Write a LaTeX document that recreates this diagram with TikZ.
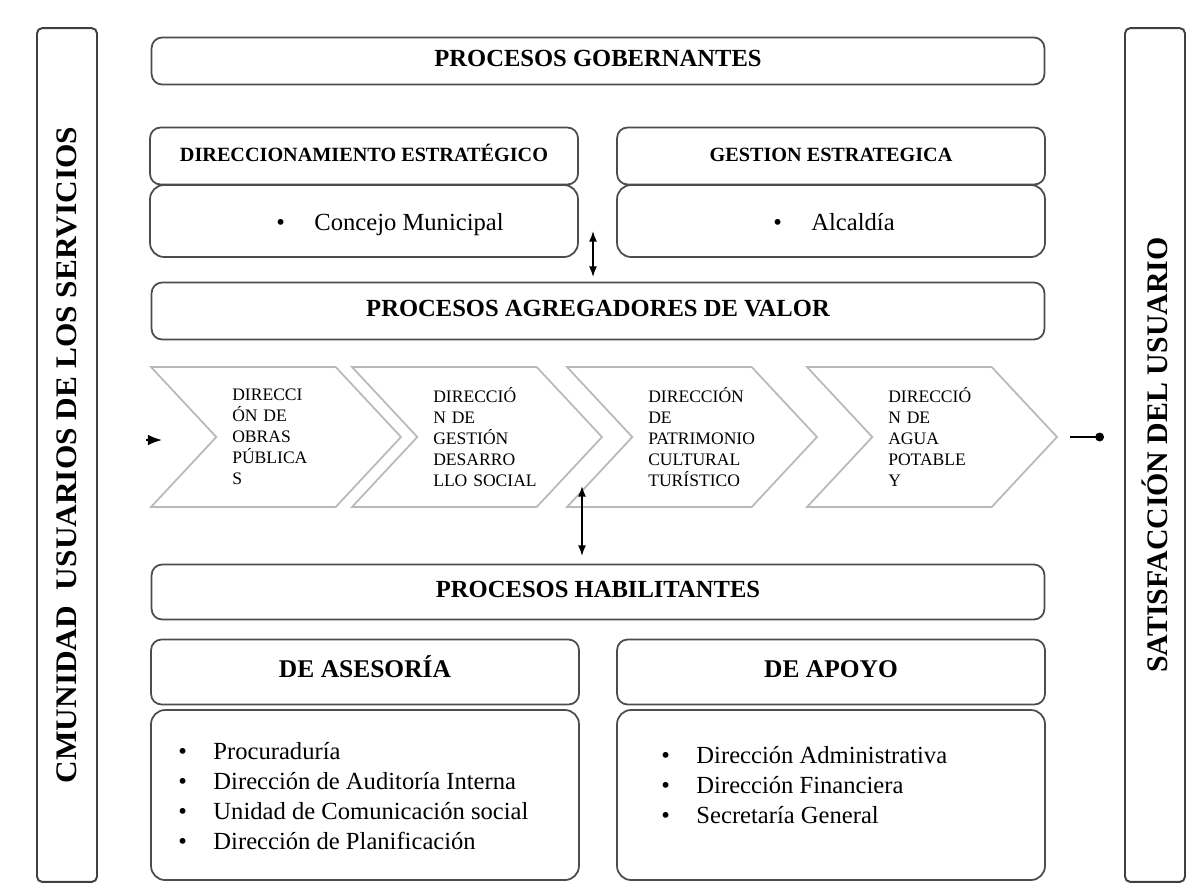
\documentclass[tikz,border=0pt]{standalone}
\usepackage{fontspec}
\setmainfont{Liberation Serif}
\usepackage{tikz}
\usetikzlibrary{shapes,arrows.meta,positioning}

\begin{document}
\begin{tikzpicture}[
    x=0.02cm, y=-0.02cm,
    bar/.style={draw=black!75, line width=1.1pt, rounded corners=3pt, rotate=90, inner xsep=0pt,
        minimum width=17.08cm, minimum height=1.2cm, font=\fontsize{17}{19}\selectfont\bfseries},
    band/.style={draw=black!70, line width=1pt, rounded corners=6pt, text height=1.6ex, text depth=0.3ex,
        minimum width=17.86cm, font=\fontsize{14}{16}\selectfont\bfseries},
    head/.style={draw=black!70, line width=1pt, rounded corners=6pt, text height=1.6ex, text depth=0.3ex,
        minimum width=8.56cm},
    body/.style={draw=black!70, line width=1pt, rounded corners=8pt, minimum width=8.56cm},
    list/.style={align=left, inner sep=0pt, font=\fontsize{14}{17}\selectfont},
    stage/.style={signal, signal to=east, signal from=west, signal pointer angle=94,
        draw=gray!55, line width=1pt, minimum width=5cm, minimum height=2.8cm,
        inner sep=0pt, text width=1.75cm, align=left, font=\fontsize{10}{12}\selectfont},
    edge/.style={line width=0.9pt}
]
    \useasboundingbox (0,0) rectangle (1202,890);

    % side bars
    \node[bar] (users) at (67,455) {\scalebox{1.05}[1]{CMUNIDAD\ \ USUARIOS DE LOS SERVICIOS}};
    \node[bar] (satis) at (1155,455) {SATISFACCIÓN DEL USUARIO};

    % governing processes
    \node[band, minimum height=0.94cm] (gob) at (598,61) {PROCESOS GOBERNANTES};
    \node[head, minimum height=1.14cm, font=\fontsize{11.5}{13}\selectfont\bfseries] (dirh) at (364,156) {DIRECCIONAMIENTO ESTRATÉGICO};
    \node[body, minimum height=1.44cm] (dirb) at (364,221) {};
    \node[head, minimum height=1.14cm, font=\fontsize{11.5}{13}\selectfont\bfseries] (gesh) at (831,156) {GESTION ESTRATEGICA};
    \node[body, minimum height=1.44cm] (gesb) at (831,221) {};
    \node[anchor=base, font=\fontsize{14}{16}\selectfont] (concejo) at (390,230) {\textbullet\hspace{1.2em}Concejo Municipal};
    \node[anchor=base, font=\fontsize{14}{16}\selectfont] (alcaldia) at (834,230) {\textbullet\hspace{1.2em}Alcaldía};

    % value chain
    \node[band, minimum height=1.14cm] (agr) at (598,311) {PROCESOS AGREGADORES DE VALOR};
    \node[stage] (obras) at (276,437) {DIRECCI\\ÓN DE\\OBRAS\\PÚBLICA\\S};
    \node[stage] (social) at (477,437) {DIRECCIÓ\\N DE\\GESTIÓN\\DESARRO\\\mbox{LLO SOCIAL}};
    \node[stage] (cultura) at (692,437) {DIRECCIÓN\\DE\\PATRIMONIO\\CULTURAL\\TURÍSTICO};
    \node[stage] (agua) at (932,437) {DIRECCIÓ\\N DE\\AGUA\\POTABLE\\Y};

    % enabling processes
    \node[band, minimum height=1.1cm] (hab) at (598,592) {PROCESOS HABILITANTES};
    \node[head, minimum height=1.3cm, font=\fontsize{14.5}{16}\selectfont\bfseries] (aseh) at (365,672) {DE ASESORÍA};
    \node[body, minimum height=3.4cm] (aseb) at (365,795) {};
    \node[head, minimum height=1.3cm, font=\fontsize{14.5}{16}\selectfont\bfseries] (apoh) at (831,672) {DE APOYO};
    \node[body, minimum height=3.4cm] (apob) at (831,795) {};

    \node[list, anchor=north west] (aselist) at (178,742) {%
        \makebox[20pt][l]{\textbullet}Procuraduría\\
        \makebox[20pt][l]{\textbullet}Dirección de Auditoría Interna\\
        \makebox[20pt][l]{\textbullet}Unidad de Comunicación social\\
        \makebox[20pt][l]{\textbullet}Dirección de Planificación};
    \node[list, anchor=north west] (apolist) at (661,746) {%
        \makebox[20pt][l]{\textbullet}Dirección Administrativa\\
        \makebox[20pt][l]{\textbullet}Dirección Financiera\\
        \makebox[20pt][l]{\textbullet}Secretaría General};

    % connectors
    \coordinate (inA) at (146,440);
    \coordinate (inB) at (162,440);
    \coordinate (outB) at (1104,437);
    \coordinate (gobA) at (593,231);
    \coordinate (gobB) at (593,277);
    \coordinate (habA) at (582,486);
    \coordinate (habB) at (582,556);

    \draw[edge, -{Latex[length=8pt]}] (inA) -- (inB);
    \draw[edge, -{Circle[length=5pt]}, shorten <=0.24cm] (agua.east) -- (outB);
    \draw[edge, {Latex[length=6pt]}-{Latex[length=6pt]}] (gobA) -- (gobB);
    \draw[edge, {Latex[length=6pt]}-{Latex[length=6pt]}] (habA) -- (habB);
\end{tikzpicture}
\end{document}
